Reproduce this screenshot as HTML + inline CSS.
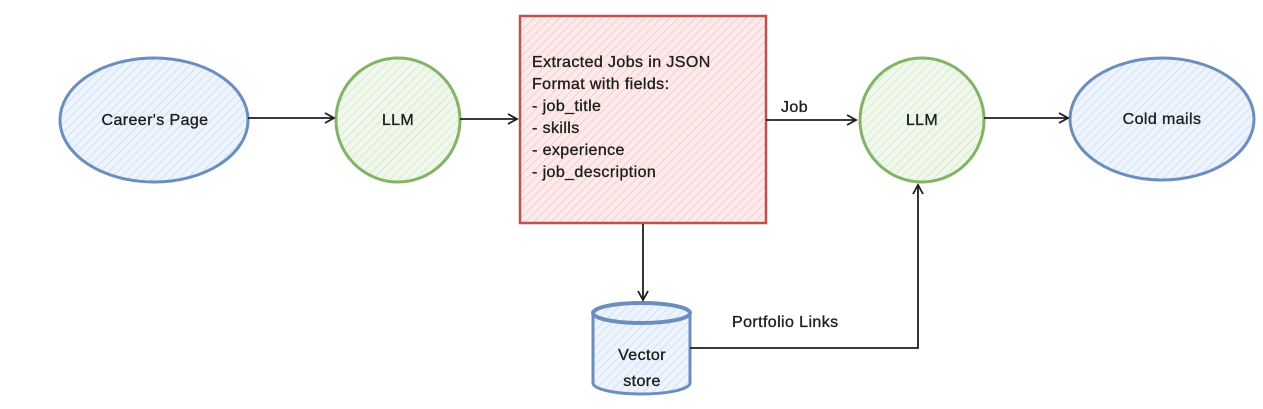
<!DOCTYPE html>
<html><head><meta charset="utf-8"><style>
html,body{margin:0;padding:0;background:#fff;}
svg{display:block}
text{font-family:"Liberation Sans",sans-serif;font-size:16px;fill:#1e1e1e;stroke:#1e1e1e;stroke-width:0.35;letter-spacing:0.4px;}
</style></head><body>
<svg width="1263" height="409" viewBox="0 0 1263 409" xmlns="http://www.w3.org/2000/svg">
<defs>
<pattern id="hb" width="6" height="6" patternUnits="userSpaceOnUse" patternTransform="rotate(45)"><rect width="6" height="6" fill="#eef4fd"/><line x1="0" y1="0" x2="0" y2="6" stroke="#c6daf5" stroke-width="1.5"/></pattern>
<pattern id="hg" width="6" height="6" patternUnits="userSpaceOnUse" patternTransform="rotate(45)"><rect width="6" height="6" fill="#f0f8ec"/><line x1="0" y1="0" x2="0" y2="6" stroke="#cfe6c4" stroke-width="1.5"/></pattern>
<pattern id="hr" width="6" height="6" patternUnits="userSpaceOnUse" patternTransform="rotate(45)"><rect width="6" height="6" fill="#fdeaea"/><line x1="0" y1="0" x2="0" y2="6" stroke="#f5c2c2" stroke-width="1.5"/></pattern>
<marker id="ar" markerWidth="12" markerHeight="12" refX="10" refY="6" orient="auto" markerUnits="userSpaceOnUse"><path d="M1,1 L10,6 L1,11" fill="none" stroke="#1e1e1e" stroke-width="1.8"/></marker>
</defs>
<g stroke-width="3">
<ellipse cx="154" cy="120" rx="94" ry="62" fill="url(#hb)" stroke="#6c8ebf"/>
<circle cx="398" cy="120" r="62" fill="url(#hg)" stroke="#82b366"/>
<rect x="520" y="16" width="246" height="207" fill="url(#hr)" stroke="#b85450" stroke-width="2.5"/>
<circle cx="922" cy="120" r="62" fill="url(#hg)" stroke="#82b366"/>
<ellipse cx="1162" cy="119" rx="92" ry="61" fill="url(#hb)" stroke="#6c8ebf"/>
<path d="M593,313 L593,383 A48.5,11 0 0 0 690,383 L690,313 Z" fill="url(#hb)" stroke="#6c8ebf"/>
<ellipse cx="641.5" cy="313" rx="48.5" ry="10" fill="url(#hb)" stroke="#6c8ebf" stroke-width="4"/>
</g>
<g stroke="#1e1e1e" stroke-width="1.8" fill="none" marker-end="url(#ar)">
<line x1="248" y1="118" x2="334" y2="118"/>
<line x1="460" y1="119" x2="517" y2="119"/>
<line x1="766" y1="120" x2="856" y2="120"/>
<line x1="984" y1="118" x2="1068" y2="118"/>
<line x1="643" y1="224" x2="643" y2="300"/>
<polyline points="690,348 918,348 918,185"/>
</g>
<text x="155" y="125" text-anchor="middle">Career's Page</text>
<text x="398" y="125" text-anchor="middle">LLM</text>
<text x="922" y="125" text-anchor="middle">LLM</text>
<text x="1162" y="124" text-anchor="middle">Cold mails</text>
<text x="781" y="112">Job</text>
<text x="732" y="327">Portfolio Links</text>
<text x="642" y="360" text-anchor="middle">Vector</text>
<text x="642" y="386" text-anchor="middle">store</text>
<g>
<text x="532" y="67">Extracted Jobs in JSON</text>
<text x="532" y="89">Format with fields:</text>
<text x="532" y="111">- job_title</text>
<text x="532" y="133">- skills</text>
<text x="532" y="155">- experience</text>
<text x="532" y="177">- job_description</text>
</g>
</svg>
</body></html>
